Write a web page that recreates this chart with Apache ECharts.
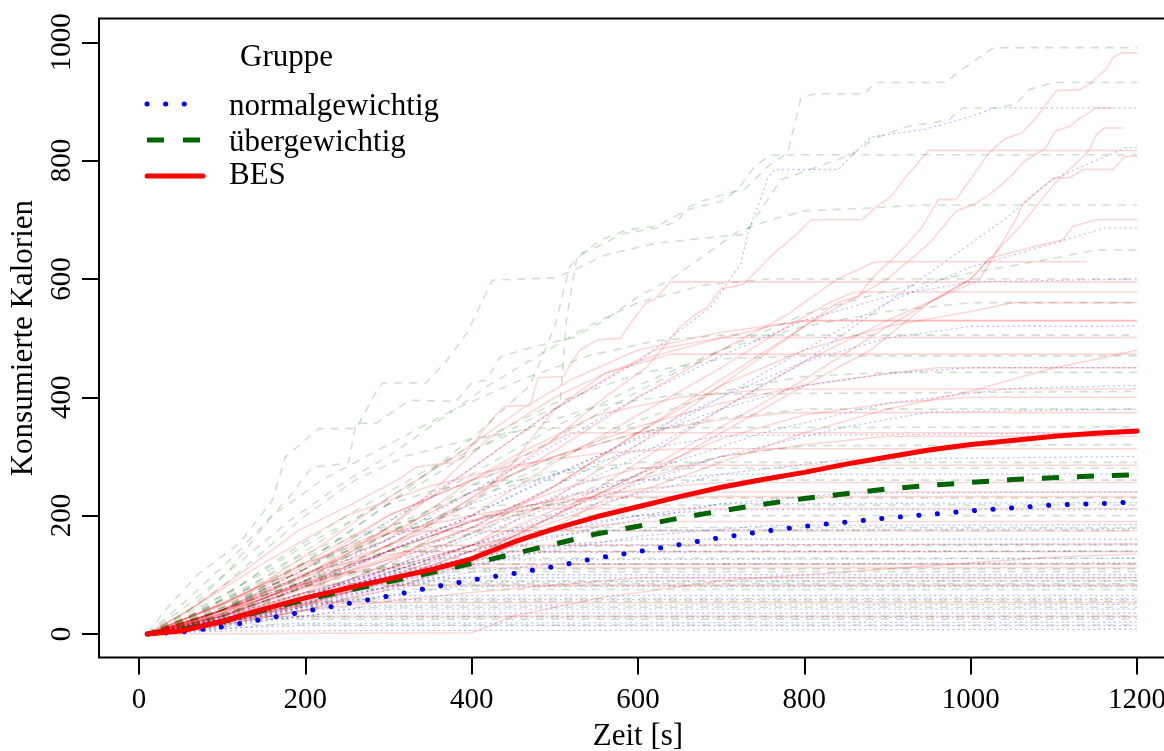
<!DOCTYPE html>
<html>
<head>
<meta charset="utf-8">
<script src="https://cdn.jsdelivr.net/npm/echarts@6/dist/echarts.min.js"></script>
<style>
html,body{margin:0;padding:0;background:#fff;}
#chart{width:1164px;height:751px;}
</style>
</head>
<body>
<div id="chart"></div>
<script>
// ---------- data ----------
const xTicks = [0, 200, 400, 600, 800, 1000, 1200];
const yTicks = [0, 200, 400, 600, 800, 1000];
const groupNames = ['normalgewichtig', 'übergewichtig', 'BES'];

// mean curves (time in s, kcal)
const meanTime    = [10,50,100,150,200,250,300,350,400,450,500,550,600,650,700,750,800,850,900,950,1000,1050,1100,1150,1200];
const meanNormal  = [0,3,12,25,38,51,64,78,91,102,114,128,139,151,163,173,182,189,196,202,208,213,218,220,223];
const meanUeber   = [0,7,20,40,58,73,88,103,119,135,152,169,182,196,208,219,229,237,245,251,256,261,264,267,269];
const meanBES     = [0,5,21,42,61,77,93,108,127,155,178,198,215,232,248,261,273,287,299,311,320,327,334,339,343];

// individual participants: BES
const besLines = [
  [[10,0],[100,20],[200,50],[300,95],[400,150],[500,230],[600,320],[700,420],[780,500],[840,560],[865,570],[881,601],[901,627],[921,655],[941,686],[961,734],[982,734],[1002,773],[1022,813],[1040,836],[1062,847],[1080,875],[1103,918],[1131,920],[1143,929],[1163,955],[1171,974],[1181,982],[1200,982]],
  [[10,0],[100,25],[200,70],[300,140],[400,230],[500,330],[560,400],[610,450],[651,519],[668,539],[684,553],[700,584],[716,587],[728,593],[752,627],[764,644],[788,672],[808,700],[869,700],[885,720],[905,740],[921,771],[933,790],[949,817],[1200,817]],
  [[10,0],[60,40],[120,100],[192,175],[250,215],[313,262],[333,282],[377,290],[389,299],[414,344],[430,372],[440,385],[470,386],[480,433],[510,435],[530,480],[551,497],[579,500],[591,525],[610,560],[619,564],[639,595],[1200,595]],
  [[10,0],[100,15],[200,40],[300,80],[400,130],[500,200],[600,290],[700,380],[800,460],[900,530],[1010,598],[1030,643],[1054,700],[1062,725],[1078,746],[1100,771],[1119,771],[1135,785],[1171,785],[1185,807],[1200,807]],
  [[10,0],[100,20],[200,55],[300,110],[400,170],[500,250],[600,340],[700,430],[800,520],[900,600],[950,660],[982,714],[1006,728],[1022,742],[1034,756],[1050,776],[1062,796],[1074,807],[1090,821],[1102,850],[1119,858],[1135,875],[1151,889],[1171,889]],
  [[10,0],[100,18],[200,48],[300,90],[400,140],[500,200],[600,270],[700,350],[800,430],[900,520],[1000,600],[1060,690],[1100,760],[1135,807],[1143,819],[1151,844],[1160,855],[1183,855]],
  [[10,0],[100,15],[200,40],[300,75],[400,120],[500,180],[600,260],[700,340],[800,420],[880,480],[950,560],[1000,600],[1022,635],[1038,641],[1078,655],[1111,666],[1123,689],[1151,700],[1200,700]],
  [[10,0],[100,30],[200,80],[300,150],[400,230],[500,310],[600,400],[700,480],[780,540],[840,600],[885,629],[1139,629]],
  [[10,0],[100,20],[200,60],[300,120],[400,200],[500,290],[600,370],[700,450],[780,520],[830,560],[860,578],[1200,578]],
  [[10,0],[120,40],[250,100],[400,180],[500,250],[600,340],[700,420],[800,480],[900,520],[1000,545],[1050,560],[1200,560]],
  [[10,0],[150,60],[300,150],[400,220],[450,290],[500,380],[520,400],[560,440],[620,470],[700,500],[760,520],[800,530],[1200,530]],
  [[10,0],[100,20],[200,50],[300,90],[400,140],[500,190],[600,240],[700,290],[800,340],[900,380],[1000,410],[1100,450],[1170,470],[1200,480]],
  [[10,0],[100,40],[200,100],[300,170],[400,240],[500,300],[600,350],[700,390],[800,420],[900,440],[960,450],[1200,450]],
  [[10,0],[80,30],[180,90],[300,160],[400,260],[450,300],[550,370],[650,400],[760,414],[1200,414]],
  [[10,0],[100,20],[250,70],[400,130],[500,200],[600,270],[700,330],[800,370],[900,390],[1000,400],[1200,400]],
  [[10,0],[100,50],[200,120],[300,200],[400,260],[500,300],[600,340],[700,362],[780,374],[1200,374]],
  [[10,0],[120,30],[250,80],[400,150],[500,210],[600,260],[700,300],[800,320],[900,334],[1200,334]],
  [[10,0],[60,40],[150,120],[250,200],[350,250],[450,285],[550,305],[650,313],[1200,313]],
  [[10,0],[100,30],[200,80],[300,130],[400,180],[500,220],[600,245],[700,256],[1200,256]],
  [[10,0],[100,50],[200,120],[300,170],[400,200],[500,225],[560,232],[1200,232]],
  [[10,0],[100,25],[200,70],[300,110],[400,150],[500,175],[600,190],[1200,190]],
  [[10,0],[80,40],[160,90],[250,120],[320,139],[1200,139]],
  [[10,0],[100,30],[200,70],[300,95],[400,118],[1200,118]],
  [[10,0],[80,25],[150,45],[220,53],[1200,53]],
  [[10,0],[60,15],[120,30],[1200,30]],
  [[10,0],[150,80],[250,150],[300,174],[1200,174]],
  [[10,0],[100,40],[200,110],[300,200],[400,260],[460,300],[520,340],[1200,340]],
  [[10,0],[100,30],[200,90],[300,180],[360,250],[420,330],[500,400],[560,440],[640,473],[1200,473]],
  [[10,0],[100,35],[200,100],[300,180],[400,280],[500,380],[560,430],[620,480],[700,501],[1200,501]],
  [[10,0],[120,60],[220,150],[300,230],[380,300],[460,380],[520,430],[600,480],[700,510],[800,529],[1200,529]],
  [[10,0],[200,40],[400,70],[600,95],[1200,95]],
  [[10,0],[400,2],[450,30],[550,60],[700,90],[900,110],[1100,130],[1200,135]],
  [[10,0],[80,30],[160,70],[240,100],[300,112],[1200,112]],
  [[10,0],[100,35],[200,85],[300,125],[360,150],[1200,152]],
  [[10,0],[60,20],[130,55],[200,82],[1200,82]],
  [[10,0],[120,50],[240,120],[340,170],[420,200],[480,212],[1200,212]],
  [[10,0],[90,30],[190,80],[300,140],[400,190],[480,220],[540,240],[1200,240]],
  [[10,0],[150,60],[300,140],[420,200],[520,250],[600,280],[660,285],[1200,285]]
];

// individual participants: übergewichtig
const ueberLines = [
  [[10,0],[80,30],[150,80],[220,140],[300,220],[380,290],[440,340],[480,370],[506,384],[514,531],[527,641],[543,649],[563,663],[583,677],[623,686],[647,697],[659,720],[675,731],[716,748],[728,751],[756,790],[780,813],[796,906],[812,913],[873,913],[885,932],[970,932],[982,946],[1018,982],[1028,991],[1200,991]],
  [[10,0],[31,39],[71,101],[120,152],[160,225],[176,299],[216,347],[261,347],[285,409],[293,424],[345,424],[369,460],[394,508],[425,598],[502,602],[530,620],[560,640],[620,660],[700,672],[728,675],[756,734],[772,768],[857,810],[885,838],[925,858],[974,869],[990,889],[1030,889],[1054,895],[1070,920],[1100,932],[1200,932]],
  [[10,0],[100,40],[200,120],[300,220],[400,330],[470,420],[500,520],[518,621],[530,638],[555,666],[587,683],[623,689],[659,717],[700,731],[720,751],[740,790],[760,810],[1200,810]],
  [[10,0],[60,60],[120,140],[180,230],[208,282],[232,285],[252,290],[261,356],[285,356],[325,395],[381,393],[400,424],[418,429],[434,468],[474,485],[520,500],[560,530],[600,570],[640,600],[680,640],[720,680],[760,700],[800,715],[880,720],[940,725],[1200,725]],
  [[10,0],[100,30],[200,90],[300,170],[400,250],[500,330],[600,410],[700,480],[800,540],[900,580],[1000,610],[1100,635],[1150,649],[1200,649]],
  [[10,0],[60,50],[120,120],[180,190],[250,260],[300,300],[360,360],[420,420],[480,470],[540,520],[600,560],[680,590],[760,600],[1200,600]],
  [[10,0],[100,40],[200,110],[300,190],[400,270],[500,350],[600,420],[700,480],[800,520],[900,545],[1000,560],[1200,560]],
  [[10,0],[60,40],[110,110],[160,200],[220,260],[300,320],[380,380],[460,430],[540,470],[620,495],[700,505],[1200,505]],
  [[10,0],[100,50],[200,140],[300,230],[400,320],[500,390],[600,440],[700,465],[800,470],[1200,470]],
  [[10,0],[150,50],[300,150],[450,260],[600,360],[700,410],[800,435],[900,442],[1200,442]],
  [[10,0],[80,40],[160,120],[250,200],[350,280],[450,340],[550,385],[650,405],[1200,410]],
  [[10,0],[100,40],[200,100],[300,170],[400,240],[500,300],[600,340],[700,365],[800,380],[1200,380]],
  [[10,0],[50,30],[100,80],[150,140],[200,200],[260,260],[320,300],[400,330],[480,348],[1200,350]],
  [[10,0],[120,30],[250,90],[400,170],[550,250],[700,300],[800,318],[1200,320]],
  [[10,0],[100,40],[200,110],[300,180],[400,240],[500,275],[600,290],[1200,290]],
  [[10,0],[60,30],[130,90],[200,150],[280,210],[360,245],[440,260],[1200,260]],
  [[10,0],[100,30],[200,80],[300,140],[400,190],[500,220],[560,230],[1200,230]],
  [[10,0],[80,50],[160,110],[240,160],[320,190],[380,200],[1200,200]],
  [[10,0],[100,40],[200,90],[300,140],[400,170],[450,175],[1200,175]],
  [[10,0],[60,30],[120,70],[200,120],[270,148],[1200,150]],
  [[10,0],[100,30],[200,80],[300,115],[360,128],[1200,128]],
  [[10,0],[80,30],[160,70],[230,100],[280,110],[1200,110]],
  [[10,0],[100,25],[200,60],[280,85],[320,90],[1200,90]],
  [[10,0],[60,20],[140,50],[200,70],[240,75],[1200,75]],
  [[10,0],[100,20],[180,45],[250,60],[1200,60]],
  [[10,0],[80,18],[150,38],[190,45],[1200,45]],
  [[10,0],[60,12],[120,25],[160,30],[1200,30]],
  [[10,0],[70,8],[130,15],[1200,15]],
  [[10,0],[50,20],[90,50],[130,75],[160,85],[1200,85]],
  [[10,0],[70,25],[140,60],[210,95],[260,105],[1200,105]],
  [[10,0],[90,35],[170,80],[250,125],[300,140],[1200,140]],
  [[10,0],[60,30],[130,80],[200,130],[260,165],[310,180],[1200,180]],
  [[10,0],[100,45],[200,110],[300,170],[380,210],[440,218],[1200,218]],
  [[10,0],[50,10],[100,22],[140,25],[1200,25]],
  [[10,0],[80,22],[150,42],[210,55],[1200,55]],
  [[10,0],[120,35],[220,65],[300,82],[1200,82]],
  [[10,0],[70,20],[150,55],[230,95],[300,118],[1200,118]],
  [[10,0],[110,50],[200,100],[280,150],[350,190],[420,240],[500,270],[560,280],[1200,280]]
];

// individual participants: normalgewichtig
const normalLines = [
  [[10,0],[100,40],[200,110],[300,190],[400,280],[500,380],[600,460],[688,553],[724,627],[732,677],[744,722],[756,770],[764,785],[841,785],[860,813],[880,840],[945,853],[990,870],[1030,889],[1200,889]],
  [[10,0],[150,40],[300,110],[450,200],[600,300],[700,380],[800,460],[900,560],[980,640],[1040,700],[1098,768],[1150,800],[1187,822],[1200,822]],
  [[10,0],[200,60],[400,180],[600,320],[700,400],[800,480],[900,560],[1000,620],[1100,660],[1160,686],[1200,686]],
  [[10,0],[100,30],[200,90],[300,160],[400,240],[500,320],[600,400],[700,470],[800,530],[900,570],[1000,595],[1200,600]],
  [[10,0],[120,40],[250,110],[400,200],[550,300],[700,400],[800,460],[900,500],[1000,520],[1200,520]],
  [[10,0],[100,30],[200,80],[300,140],[400,200],[500,270],[600,330],[700,380],[800,420],[900,440],[1000,450],[1200,450]],
  [[10,0],[150,40],[300,110],[450,190],[600,270],[750,340],[900,390],[1050,415],[1200,420]],
  [[10,0],[100,25],[250,80],[400,150],[550,230],[700,300],[850,350],[950,375],[1200,380]],
  [[10,0],[100,40],[200,100],[300,160],[400,220],[500,270],[600,310],[700,335],[1200,340]],
  [[10,0],[120,30],[250,80],[400,150],[550,220],[700,270],[850,295],[1200,300]],
  [[10,0],[80,30],[180,80],[300,140],[400,190],[500,230],[600,260],[700,270],[1200,270]],
  [[10,0],[100,20],[250,70],[400,130],[550,180],[700,220],[850,238],[1200,240]],
  [[10,0],[100,30],[200,70],[300,110],[400,150],[500,180],[600,200],[700,210],[1200,210]],
  [[10,0],[150,30],[300,80],[450,130],[600,165],[750,183],[1200,185]],
  [[10,0],[100,25],[200,60],[300,100],[400,130],[500,150],[600,160],[1200,160]],
  [[10,0],[80,20],[180,50],[280,90],[380,120],[480,138],[1200,140]],
  [[10,0],[100,20],[200,50],[300,80],[400,105],[500,118],[1200,120]],
  [[10,0],[80,15],[160,40],[260,70],[360,92],[440,100],[1200,100]],
  [[10,0],[100,15],[200,40],[300,65],[380,80],[1200,80]],
  [[10,0],[60,10],[140,30],[220,50],[300,65],[1200,65]],
  [[10,0],[100,12],[200,30],[280,48],[1200,50]],
  [[10,0],[80,10],[160,25],[230,35],[1200,35]],
  [[10,0],[100,8],[180,18],[1200,20]],
  [[10,0],[100,5],[1200,8]],
  [[10,0],[60,8],[120,20],[170,28],[1200,28]],
  [[10,0],[90,15],[180,40],[250,58],[1200,58]],
  [[10,0],[120,25],[250,60],[350,88],[1200,90]],
  [[10,0],[80,18],[170,48],[260,78],[330,95],[1200,95]],
  [[10,0],[100,22],[220,60],[340,100],[430,125],[1200,128]],
  [[10,0],[130,35],[260,85],[400,130],[520,150],[1200,152]],
  [[10,0],[100,30],[220,75],[340,120],[460,160],[560,175],[1200,178]],
  [[10,0],[150,40],[300,100],[450,160],[600,200],[700,220],[1200,222]],
  [[10,0],[70,12],[140,28],[200,42],[1200,42]],
  [[10,0],[110,10],[200,14],[1200,14]]
];

// ---------- chart ----------
const FONT = 'Liberation Serif';
const chart = echarts.init(document.getElementById('chart'), null, {renderer: 'canvas'});

function zip(xs, ys) { return xs.map((x, i) => [x, ys[i]]); }

const series = [];
function addIndividuals(lines, style, tag) {
  lines.forEach((d, i) => {
    series.push({
      name: tag + i, type: 'line', data: d, symbol: 'none', showSymbol: false,
      silent: true, animation: false, z: 2,
      lineStyle: style
    });
  });
}
addIndividuals(normalLines, {color: 'rgba(0,0,255,0.24)', width: 1.3, type: [1.2, 4], cap: 'round'}, 'n');
addIndividuals(ueberLines,  {color: 'rgba(0,100,0,0.19)', width: 1.6, type: [8, 7]}, 'u');
addIndividuals(besLines,    {color: 'rgba(255,0,0,0.16)', width: 1.6, type: 'solid'}, 'b');

series.push({
  name: groupNames[0], type: 'line', data: zip(meanTime, meanNormal), symbol: 'none', showSymbol: false,
  animation: false, z: 5,
  lineStyle: {color: '#0000ff', width: 5, type: [0.1, 18.5], cap: 'round'}
});
series.push({
  name: groupNames[1], type: 'line', data: zip(meanTime, meanUeber), symbol: 'none', showSymbol: false,
  animation: false, z: 6,
  lineStyle: {color: '#006400', width: 5, type: [17, 18], cap: 'butt'}
});
series.push({
  name: groupNames[2], type: 'line', data: zip(meanTime, meanBES), symbol: 'none', showSymbol: false,
  animation: false, z: 7,
  lineStyle: {color: '#ff0000', width: 5, type: 'solid', cap: 'round', join: 'round'}
});

const legendX0 = 147, legendX1 = 203, legendTextX = 229;
const legendRowsY = [104, 140, 176];
const legendTextY = [107, 143, 176];
const fmt = v => String(v);

const option = {
  animation: false,
  backgroundColor: '#ffffff',
  textStyle: {fontFamily: FONT, color: '#000'},
  grid: {left: 99, top: 18.6, width: 1078, height: 639, show: true, borderColor: '#000', borderWidth: 2,
         backgroundColor: 'transparent', containLabel: false, outerBoundsMode: 'none'},
  xAxis: {
    type: 'value', min: -48, max: 1248,
    name: 'Zeit [s]', nameLocation: 'middle', nameGap: 64,
    nameTextStyle: {fontFamily: FONT, fontSize: 31, color: '#000'},
    axisLine: {show: false, onZero: false},
    splitLine: {show: false},
    axisTick: {show: true, length: 17, customValues: xTicks, lineStyle: {color: '#000', width: 2}},
    axisLabel: {customValues: xTicks, formatter: fmt, fontFamily: FONT, fontSize: 29, color: '#000', margin: 28}
  },
  yAxis: {
    type: 'value', min: -40, max: 1040,
    name: 'Konsumierte Kalorien', nameLocation: 'middle', nameGap: 60,
    nameTextStyle: {fontFamily: FONT, fontSize: 31, color: '#000'},
    axisLine: {show: false, onZero: false},
    splitLine: {show: false},
    axisTick: {show: true, length: 17, customValues: yTicks, lineStyle: {color: '#000', width: 2}},
    axisLabel: {customValues: yTicks, formatter: fmt, fontFamily: FONT, fontSize: 29, color: '#000', margin: 22, rotate: 90}
  },
  graphic: [
    {type: 'text', x: 240, y: 58, style: {text: 'Gruppe', font: '31px "Liberation Serif"', fill: '#000', align: 'left', verticalAlign: 'middle'}, z: 10},
    {type: 'line', shape: {x1: legendX0, y1: legendRowsY[0], x2: legendX0 + 38, y2: legendRowsY[0]},
      style: {stroke: '#0000ff', lineWidth: 5, lineDash: [0.1, 18.5], lineCap: 'round'}, z: 10},
    {type: 'line', shape: {x1: legendX0, y1: legendRowsY[1], x2: legendX0 + 53, y2: legendRowsY[1]},
      style: {stroke: '#006400', lineWidth: 5, lineDash: [17, 19], lineCap: 'butt'}, z: 10},
    {type: 'line', shape: {x1: legendX0, y1: legendRowsY[2], x2: legendX1, y2: legendRowsY[2]},
      style: {stroke: '#ff0000', lineWidth: 5, lineCap: 'round'}, z: 10},
    {type: 'text', x: legendTextX, y: legendTextY[0], style: {text: groupNames[0], font: '31px "Liberation Serif"', fill: '#000', align: 'left', verticalAlign: 'middle'}, z: 10},
    {type: 'text', x: legendTextX, y: legendTextY[1], style: {text: groupNames[1], font: '31px "Liberation Serif"', fill: '#000', align: 'left', verticalAlign: 'middle'}, z: 10},
    {type: 'text', x: legendTextX, y: legendTextY[2], style: {text: groupNames[2], font: '31px "Liberation Serif"', fill: '#000', align: 'left', verticalAlign: 'middle'}, z: 10}
  ],
  series: series
};
chart.setOption(option);
</script>
</body>
</html>
